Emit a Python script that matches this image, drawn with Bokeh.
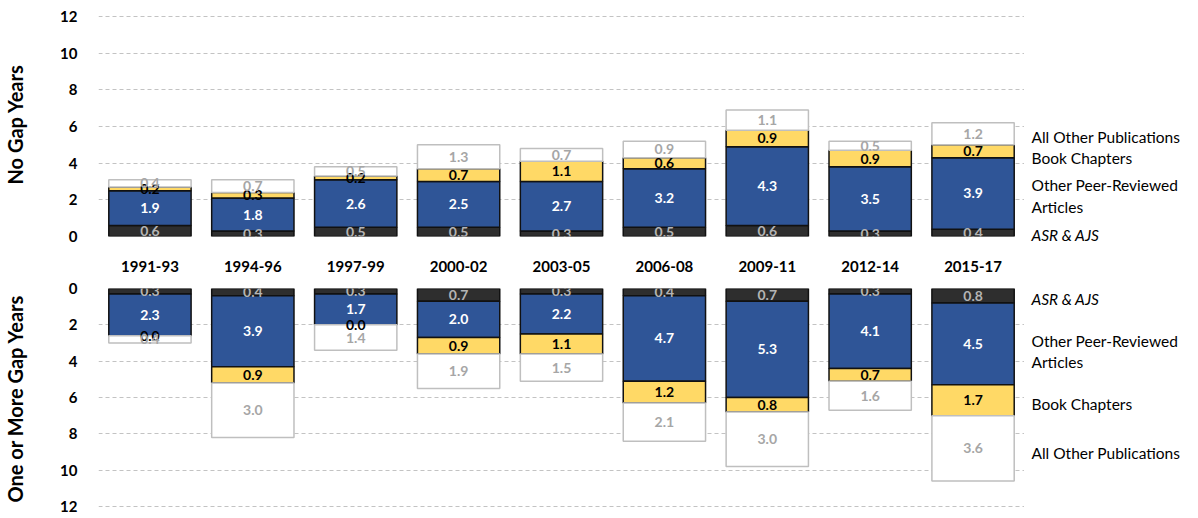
import numpy as np
from bokeh.plotting import figure
from bokeh.models import Range1d, FactorRange, FixedTicker, ColumnDataSource
from bokeh.layouts import column, row
from bokeh.embed import file_html
from bokeh.resources import INLINE
from bokeh.core.properties import value

# ---------------- data ----------------
periods = ["1991-93", "1994-96", "1997-99", "2000-02", "2003-05",
           "2006-08", "2009-11", "2012-14", "2015-17"]
series_names = ["ASR & AJS", "Other Peer-Reviewed Articles", "Book Chapters", "All Other Publications"]

no_gap_asr_ajs = [0.6, 0.3, 0.5, 0.5, 0.3, 0.5, 0.6, 0.3, 0.4]
no_gap_other_pr = [1.9, 1.8, 2.6, 2.5, 2.7, 3.2, 4.3, 3.5, 3.9]
no_gap_book = [0.2, 0.3, 0.2, 0.7, 1.1, 0.6, 0.9, 0.9, 0.7]
no_gap_all_other = [0.4, 0.7, 0.5, 1.3, 0.7, 0.9, 1.1, 0.5, 1.2]

gap_asr_ajs = [0.3, 0.4, 0.3, 0.7, 0.3, 0.4, 0.7, 0.3, 0.8]
gap_other_pr = [2.3, 3.9, 1.7, 2.0, 2.2, 4.7, 5.3, 4.1, 4.5]
gap_book = [0.0, 0.9, 0.0, 0.9, 1.1, 1.2, 0.8, 0.7, 1.7]
gap_all_other = [0.4, 3.0, 1.4, 1.9, 1.5, 2.1, 3.0, 1.6, 3.6]

y_ticks = [0, 2, 4, 6, 8, 10, 12]

# legend texts (name, italic)
legend_items = [("All Other Publications", False), ("Book Chapters", False),
                ("Other Peer-Reviewed", False), ("Articles", False), ("ASR & AJS", True),
                ("ASR & AJS", True), ("Other Peer-Reviewed", False), ("Articles", False),
                ("Book Chapters", False), ("All Other Publications", False)]

# ---------------- style / layout ----------------
FONT = "Lato"
fills = ["#2e2e2e", "#2f5597", "#ffd966", "#ffffff"]
edges = ["#111111", "#111111", "#111111", "#bfbfbf"]
label_colors = ["#b4b4b4", "#ffffff", "#000000", "#a6a6a6"]
MAIN_W = 1024
LEG_W = 158
LEFT = 96

TOP_H, TOP_BT, TOP_BB = 280, 12, 44
TOP_FRAME = TOP_H - TOP_BT - TOP_BB          # 224 px
TOP_SCALE = 18.33
TOP_END = TOP_FRAME / TOP_SCALE

BOT_H, BOT_BT, BOT_BB = 237, 8, 9
BOT_FRAME = BOT_H - BOT_BT - BOT_BB          # 220 px
BOT_SCALE = 18.17
BOT_END = BOT_FRAME / BOT_SCALE

# legend text rows, in pixels from the top of the page layout
legend_px = [136.5, 157.5, 184, 206, 234, 298, 340, 361, 403, 452.5]


def style_common(p, title):
    p.outline_line_color = None
    p.xgrid.grid_line_color = None
    p.ygrid.grid_line_color = "#c3c3c3"
    p.ygrid.grid_line_dash = "4 3"
    p.ygrid.grid_line_width = 1
    p.yaxis.ticker = FixedTicker(ticks=y_ticks)
    p.ygrid.ticker = FixedTicker(ticks=y_ticks)
    p.yaxis.axis_line_color = None
    p.yaxis.major_tick_line_color = None
    p.yaxis.minor_tick_line_color = None
    p.yaxis.major_label_standoff = 15
    p.yaxis.major_label_text_font = FONT
    p.yaxis.major_label_text_font_style = "bold"
    p.yaxis.major_label_text_font_size = "15px"
    p.yaxis.major_label_text_color = "#000000"
    p.yaxis.axis_label = title
    p.yaxis.axis_label_text_font = FONT
    p.yaxis.axis_label_text_font_style = "bold"
    p.yaxis.axis_label_text_font_size = "20px"
    p.yaxis.axis_label_text_color = "#000000"
    p.yaxis.axis_label_standoff = 30


def draw_stack(p, series):
    bottoms = np.zeros(len(periods))
    for i, vals in enumerate(series):
        vals = np.array(vals, dtype=float)
        tops = bottoms + vals
        src = ColumnDataSource(dict(x=periods, bottom=bottoms.copy(), top=tops.copy()))
        p.vbar(x="x", bottom="bottom", top="top", width=0.8, source=src,
               fill_color=fills[i], line_color=edges[i], line_width=1.5)
        bottoms = tops
    bottoms = np.zeros(len(periods))
    for i, vals in enumerate(series):
        vals = np.array(vals, dtype=float)
        src = ColumnDataSource(dict(x=periods, mid=bottoms + vals / 2,
                                    txt=["%.1f" % v for v in vals]))
        p.text(x="x", y="mid", text="txt", source=src, text_align="center",
               text_baseline="middle", text_font=value(FONT), text_font_style="bold",
               text_font_size="14px", text_color=label_colors[i])
        bottoms = bottoms + vals


# ---------------- top panel ----------------
top = figure(width=MAIN_W, height=TOP_H, x_range=FactorRange(*periods, range_padding=0),
             y_range=Range1d(0, TOP_END), output_backend="svg", toolbar_location=None,
             min_border_left=LEFT, min_border_right=0, min_border_top=TOP_BT,
             min_border_bottom=TOP_BB)
style_common(top, "No Gap Years")
top.xaxis.axis_line_color = None
top.xaxis.major_tick_line_color = None
top.xaxis.major_label_standoff = 18
top.xaxis.major_label_text_font = FONT
top.xaxis.major_label_text_font_style = "bold"
top.xaxis.major_label_text_font_size = "15px"
top.xaxis.major_label_text_color = "#000000"
draw_stack(top, [no_gap_asr_ajs, no_gap_other_pr, no_gap_book, no_gap_all_other])

# ---------------- bottom panel ----------------
bot = figure(width=MAIN_W, height=BOT_H, x_range=top.x_range,
             y_range=Range1d(BOT_END, 0), output_backend="svg", toolbar_location=None,
             x_axis_location=None,
             min_border_left=LEFT, min_border_right=0, min_border_top=BOT_BT,
             min_border_bottom=BOT_BB)
style_common(bot, "One or More Gap Years")
draw_stack(bot, [gap_asr_ajs, gap_other_pr, gap_book, gap_all_other])

# ---------------- legend column (text only) ----------------
LEG_H = TOP_H + BOT_H
leg = figure(width=LEG_W, height=LEG_H, x_range=Range1d(0, LEG_W), y_range=Range1d(LEG_H, 0),
             output_backend="svg", toolbar_location=None,
             x_axis_location=None, y_axis_location=None,
             min_border_left=0, min_border_right=0, min_border_top=0, min_border_bottom=0)
leg.outline_line_color = None
leg.xgrid.grid_line_color = None
leg.ygrid.grid_line_color = None
for (txt, italic), y in zip(legend_items, legend_px):
    leg.text(x=[7], y=[y], text=[txt], text_font=value(FONT), text_font_size="15.5px",
             text_font_style="italic" if italic else "normal", text_color="#000000",
             text_baseline="middle", text_align="left")

layout = row(column(top, bot, spacing=0), leg, spacing=0)
open("out.html", "w").write(file_html(layout, INLINE))
